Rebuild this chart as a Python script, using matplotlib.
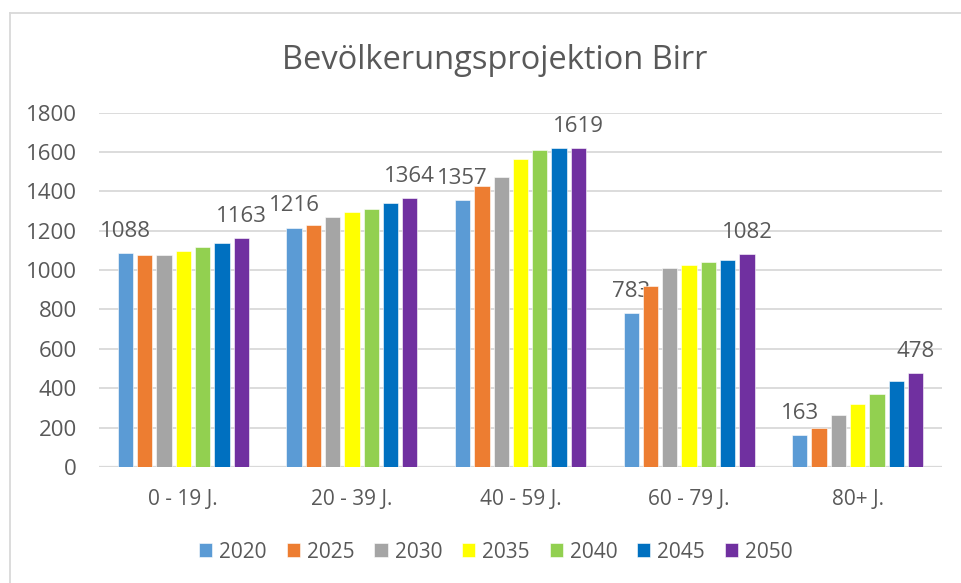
import numpy as np
from matplotlib import pyplot as plt
from matplotlib.lines import Line2D

plt.rcParams['font.family'] = ['Open Sans', 'DejaVu Sans']

# Altersgruppen und Projektionsjahre
categories = ["0 - 19 J.", "20 - 39 J.", "40 - 59 J.", "60 - 79 J.", "80+ J."]
years = ["2020", "2025", "2030", "2035", "2040", "2045", "2050"]

pop_2020 = [1088, 1216, 1357, 783, 163]
pop_2025 = [1078, 1229, 1425, 919, 197]
pop_2030 = [1078, 1267, 1471, 1008, 266]
pop_2035 = [1099, 1294, 1562, 1024, 319]
pop_2040 = [1117, 1312, 1612, 1042, 372]
pop_2045 = [1138, 1338, 1619, 1049, 438]
pop_2050 = [1163, 1364, 1619, 1082, 478]

y_ticks = [0, 200, 400, 600, 800, 1000, 1200, 1400, 1600, 1800]

colors = ["#5B9BD5", "#ED7D31", "#A5A5A5", "#FFFF00", "#92D050", "#0070C0", "#7030A0"]
text_color = "#595959"
grid_color = "#D9D9D9"


def main():
    series = [pop_2020, pop_2025, pop_2030, pop_2035, pop_2040, pop_2045, pop_2050]
    labeled = {0, 6}  # only 2020 and 2050 have data labels

    fig = plt.figure(figsize=(9.62, 5.83), dpi=100)
    ax = fig.add_axes([0.1029, 0.199, 0.8763, 0.608])

    x = np.arange(len(categories))
    pitch = 0.1145
    width = 0.091

    for i, (vals, year) in enumerate(zip(series, years)):
        pos = x + (i - 3) * pitch
        bars = ax.bar(pos, vals, width, color=colors[i], label=year, zorder=3,
                      edgecolor="white", linewidth=0.4)
        if i in labeled:
            for b, v in zip(bars, vals):
                ax.annotate(str(v), (b.get_x() + b.get_width() / 2, v),
                            xytext=(0, 8), textcoords="offset points",
                            ha="center", va="bottom", fontsize=16, color=text_color)

    ax.set_xlim(-0.5, len(categories) - 0.5)
    ax.set_ylim(0, 1800)
    ax.set_yticks(y_ticks)
    ax.set_xticks(x)
    ax.set_xticklabels(categories)
    ax.tick_params(axis="both", length=0, labelcolor=text_color)
    ax.tick_params(axis="y", pad=16, labelsize=16)
    ax.tick_params(axis="x", pad=16, labelsize=15)
    ax.yaxis.grid(True, color=grid_color, linewidth=1.3, zorder=0)
    ax.set_axisbelow(True)
    for s in ax.spines.values():
        s.set_visible(False)
    ax.axhline(0, color=grid_color, linewidth=1.6, zorder=2)

    fig.text(0.514, 0.897, "Bevölkerungsprojektion Birr", ha="center", va="center",
             fontsize=23.5, color=text_color)

    fig.legend(loc="center", bbox_to_anchor=(0.5156, 0.053), ncol=7, frameon=False,
               fontsize=15, labelcolor=text_color, handlelength=0.63, handleheight=0.63,
               handletextpad=0.34, columnspacing=0.95)

    # light chart border (top and left edges are visible)
    fig.add_artist(Line2D([10 / 962, 1], [1 - 13 / 583, 1 - 13 / 583],
                          transform=fig.transFigure, color=grid_color, linewidth=1.3))
    fig.add_artist(Line2D([10 / 962, 10 / 962], [0, 1 - 13 / 583],
                          transform=fig.transFigure, color=grid_color, linewidth=1.3))

    fig.savefig("out.png", dpi=100)


main()
